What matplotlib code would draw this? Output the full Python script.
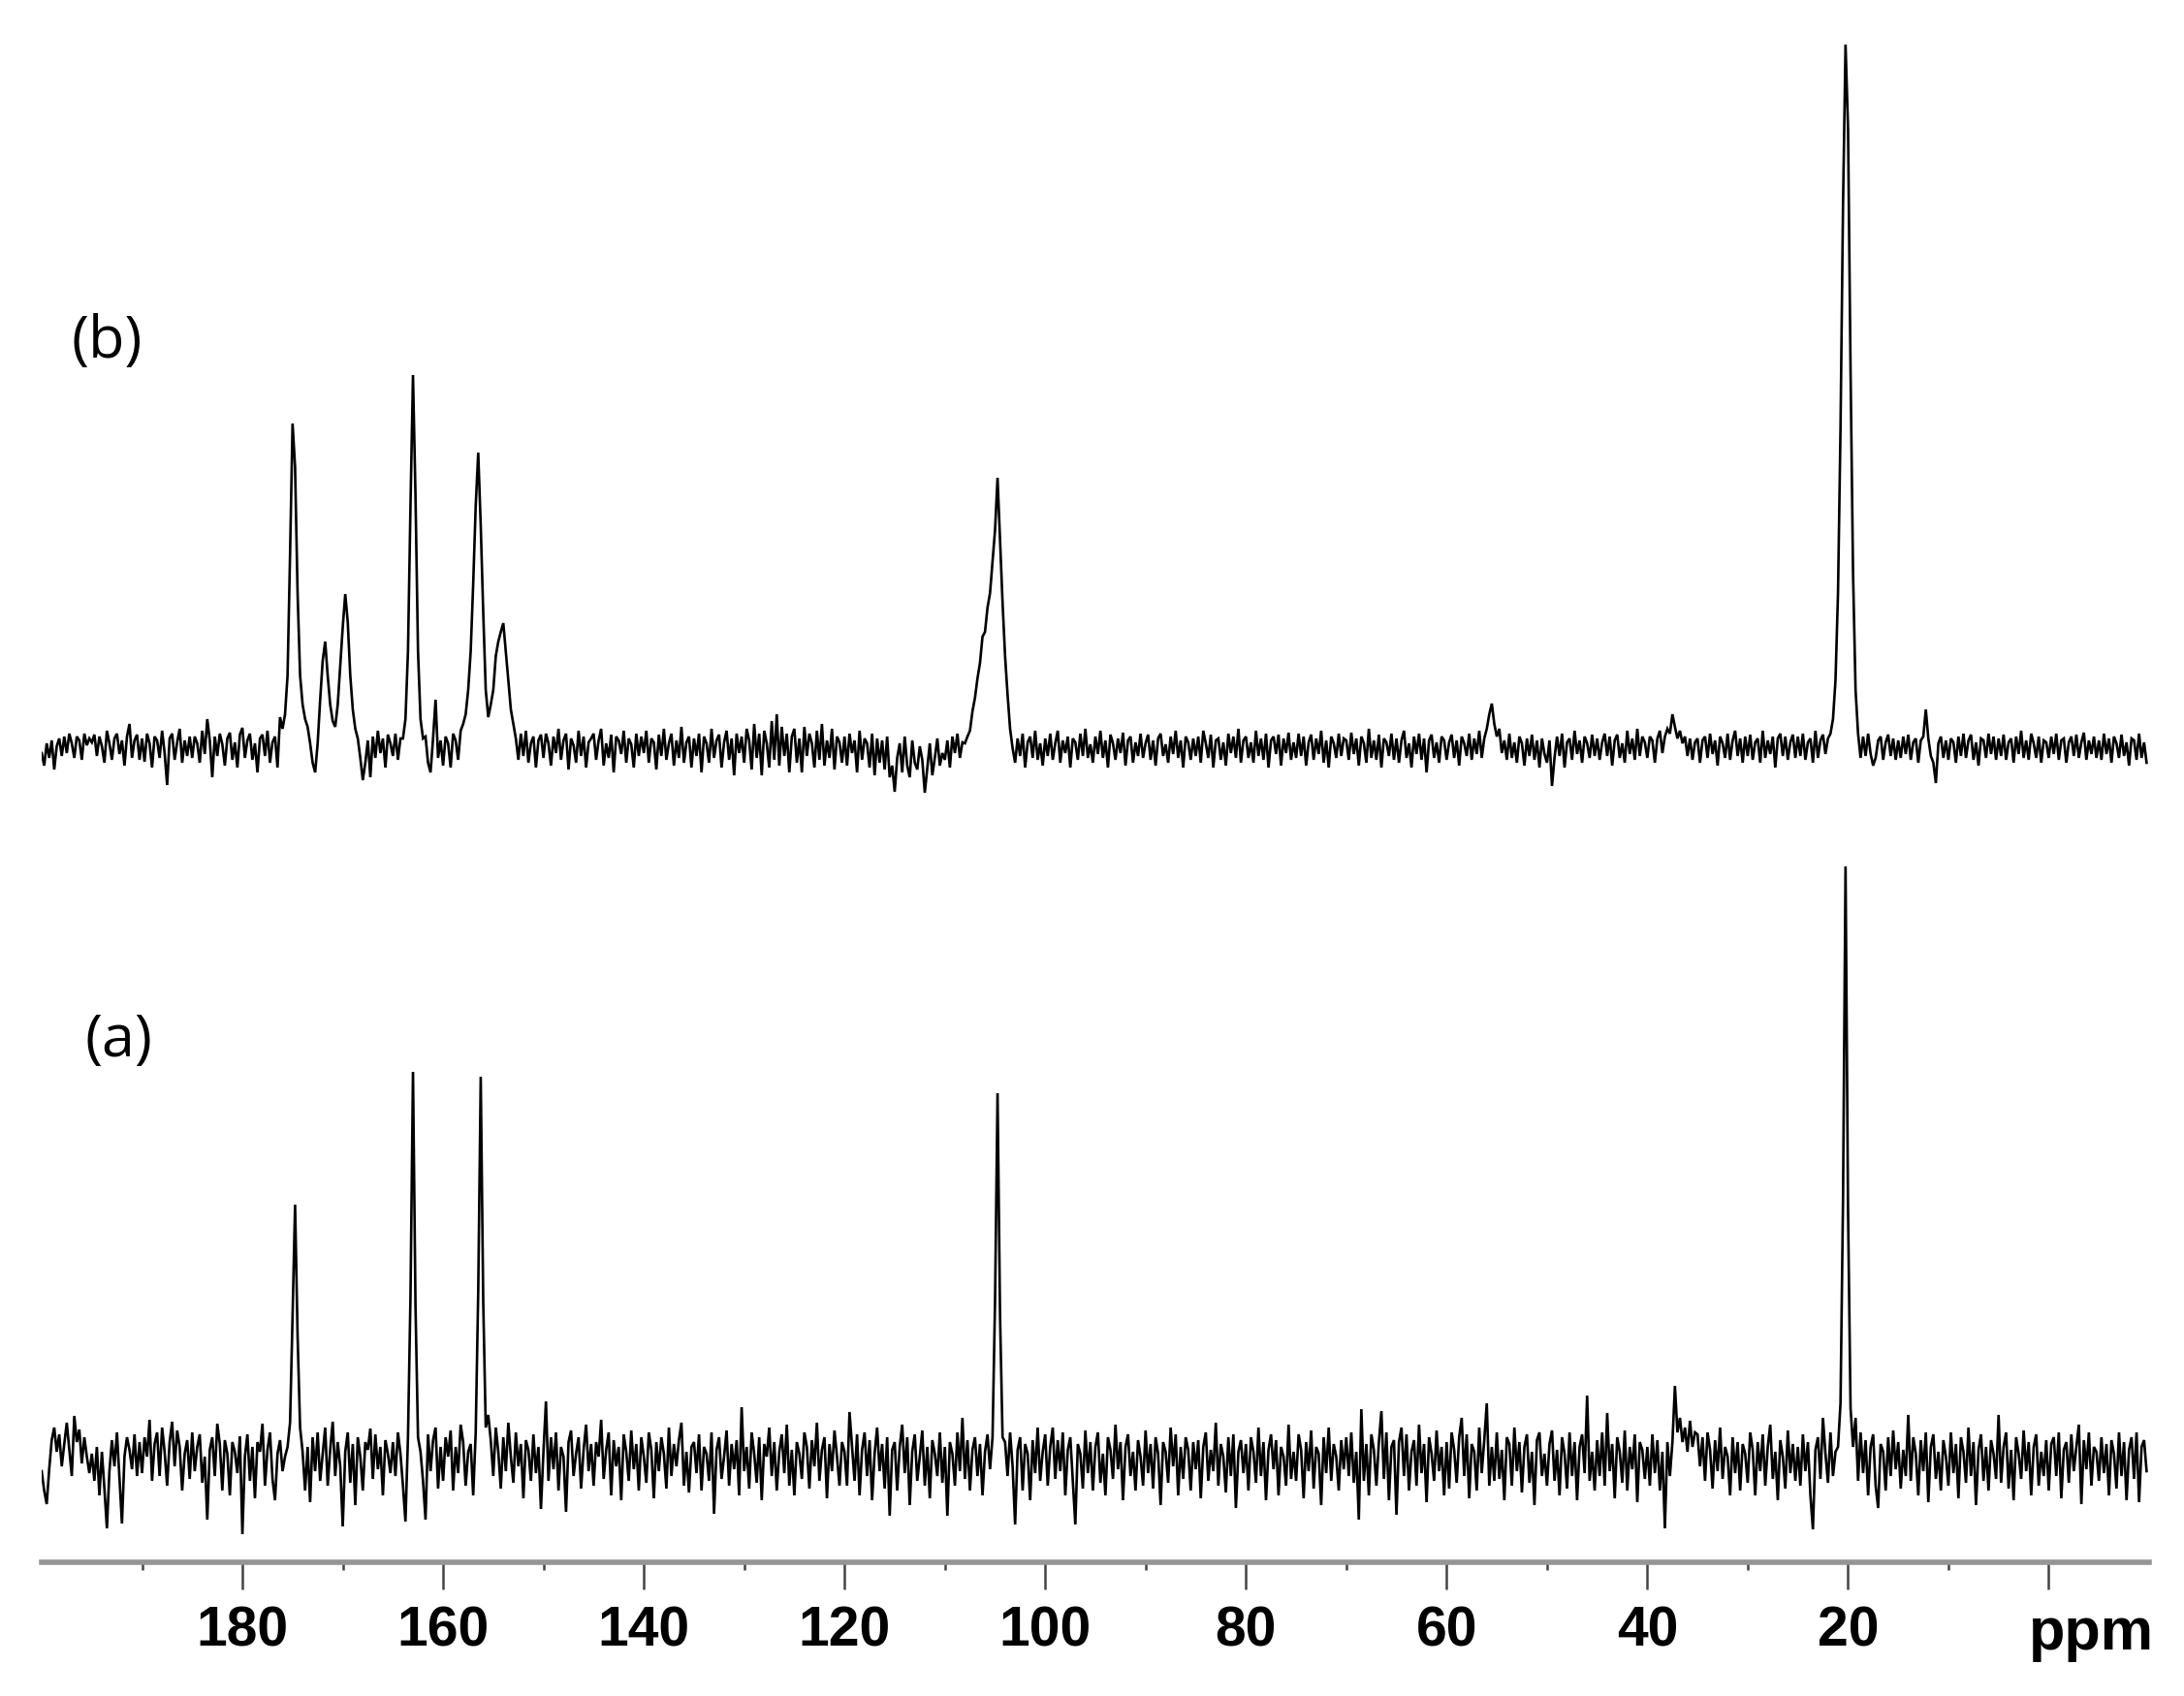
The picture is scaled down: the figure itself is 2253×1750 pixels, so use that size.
import numpy as np
import matplotlib
matplotlib.use("Agg")
import matplotlib.pyplot as plt

# ---------------- data (intensities in px above each baseline, 0.25 ppm grid) ----------------
# Each block covers 5 ppm, starting at 200 - 5*k ppm, 20 points each (step 0.25 ppm)
noise_a_blocks = [
    [-10, -30, -44, -8, 22, 35, 10, 28, -5, 18, 40, 12, -15, 47, 20, 33, -2, 25, 5, -12],
    [8, -20, 15, -35, 10, -28, -69, -10, 22, -5, 30, -18, -64, 5, 25, 12, -8, 28, -15, 20],
    [-12, 25, 5, 43, -20, 18, 30, -15, 35, 10, -25, 20, 41, -5, 32, 15, -30, 8, 22, -18],
    [30, -10, 15, 28, -22, 5, -60, 12, 25, -15, 39, 18, -30, 22, 8, -35, 20, 10, -12, 26],
    [-75, 5, 28, -20, 15, -38, 20, 10, 39, -25, 12, 30, -18, -40, 8, 22, -10, 5, -15, 10],
    [0, 0, 0, 0, 0, -30, 15, -42, 25, -10, 30, -20, 8, 35, -25, 12, 41, -15, 20, -5],
    [-67, 10, 30, -22, 18, -45, 25, 5, -30, 20, 12, 34, -18, 28, -8, 15, -35, 22, 8, -12],
    [20, -15, 30, 8, -25, -62, 0, 0, 0, 0, 0, 10, -20, -60, 28, -10, 22, 35, -28, 15],
    [-20, 25, 5, 32, -30, 15, -12, 38, 20, -25, 10, 18, -35, 0, 0, 0, 0, 0, 48, 22],
    [-15, 35, 10, -28, 25, -10, 40, 5, -22, 30, -5, 18, -38, 22, 12, -20, 28, -12, 15, -49],
    [10, 62, -20, 25, -8, 30, -30, 15, 5, -52, 20, 32, -15, 8, 25, -28, 12, 38, -10, 18],
    [-25, 20, 5, 43, -18, 12, 30, -35, 22, -5, 15, -40, 28, 10, -20, 32, -8, 18, -30, 25],
    [5, -22, 30, 12, -38, 20, -10, 25, 8, -28, 35, -15, 18, -5, 22, 40, -25, 10, -32, 15],
    [20, -12, 28, -30, 15, 8, -20, 30, -54, 12, 25, -18, 5, 32, -25, 18, -8, 22, -35, 56],
    [-10, 15, -28, 30, 8, -22, 25, -40, 18, 5, 35, -15, 20, -30, 10, 28, -12, 38, -25, 12],
    [-35, 20, 8, -18, 30, 15, -28, 22, -5, 40, -20, 12, 25, -38, 18, -10, 32, 5, -25, 20],
    [10, -25, 51, 15, -20, 28, -35, 12, 30, -15, 22, -40, 8, 35, -10, 18, -28, 25, -56, 12],
    [20, -30, 15, 38, -12, 25, -45, 10, 28, -20, 5, 32, -25, 15, -38, 22, 8, -15, 30, -22],
    [15, -56, 20, 8, -25, 30, -10, 45, -18, 22, -30, 12, 25, -15, 18, -35, 10, 28, -8, 0],
    [0, 0, 0, 0, 20, -15, 30, -5, -65, 12, 25, -30, 18, 8, -40, 22, -12, 35, -20, 10],
    [28, -25, 15, 35, -18, 22, -10, 30, -35, 12, 25, -20, -65, 18, 8, -28, 32, -12, 20, -30],
    [15, 30, -22, 8, -35, 25, 12, -18, 38, -8, 20, -40, 15, 28, -15, 10, -30, 22, 5, -25],
    [32, -12, 18, -28, 25, 8, -45, 20, 10, -22, 35, -5, 28, -35, 15, -18, 25, 12, -30, 20],
    [-8, 22, -38, 15, 30, -20, 12, -10, 40, -25, 18, 5, -32, 25, -15, 28, -48, 10, 22, -12],
    [18, -30, 25, 10, -22, 35, -15, 20, -40, 12, 28, -8, 22, -35, 15, 5, -25, 38, -18, 10],
    [-20, 28, 12, -38, 20, -10, 32, -28, 15, 8, -45, 25, -12, 35, -20, 18, 5, -30, 22, -8],
    [25, -15, 30, -22, 10, -60, 54, -20, 18, -35, 28, 12, -25, 20, 52, -18, 30, -40, 15, 22],
    [-55, 20, 35, -15, 28, -30, 10, 22, -25, 38, -12, 18, -42, 25, 8, -20, 32, -10, 15, -35],
    [20, -28, 30, 12, -22, 25, 45, -15, 28, -38, 18, 10, -30, 35, -12, 22, 60, -25, 15, -20],
    [30, -18, 12, -40, 25, 18, -25, 35, -10, 20, -32, 15, 28, -22, 10, -45, 22, 30, -15, 8],
    [-25, 18, 32, -20, 12, -35, 25, 8, -28, 30, -15, 20, -40, 15, 28, -12, 68, -20, 10, -30],
    [22, -15, 30, -25, 50, -10, 18, -38, 25, 10, -22, 32, -30, 15, -8, 28, -42, 20, 12, -18],
    [15, -25, 28, -12, 22, -30, 10, -69, 20, -15, 0, 0, 0, 45, 20, 35, 10, 42, 15, 30],
    [28, -5, 25, -20, 30, 12, -28, 22, -10, 35, -18, 15, 5, -35, 25, -12, 20, -30, 18, 8],
    [-22, 30, 12, -35, 20, -10, 28, -25, 15, 38, -18, 10, -40, 22, 5, -28, 32, -12, 18, -20],
    [15, -25, 28, -10, 20, -35, -70, 12, 25, -18, 45, 8, -22, 30, -15, 10, 0, 0, 0, 0],
    [0, 0, 0, 45, -20, 30, -12, 22, -35, 15, 28, -25, -48, 18, 10, -30, 25, -15, 32, -8],
    [20, -28, 12, -15, 48, -20, 25, 8, -35, 22, -10, 30, -42, 15, 28, -18, 10, -30, 22, 5],
    [-25, 30, -12, 18, -38, 25, 10, -22, 35, -15, 20, -45, 12, 28, -20, 15, -30, 22, 8, -18],
    [48, -22, 15, 30, -28, 12, -40, 25, 8, -18, 32, -10, 20, -35, 15, 28, -25, 10, -15, 22],
    [-30, 18, 25, -15, 30, -38, 12, 20, -22, 28, -10, 15, 38, -44, 22, -8, 30, -25, 15, 10],
    [-20, 25, -12, 18, -35, 22, 8, -28, 30, -15, 20, -40, 12, 25, -18, 30, -42, 15, 22, -10],
]

noise_b_blocks = [
    [-5, -18, 5, -10, 8, -22, 2, 10, -8, 12, -5, 15, 5, -10, 12, 8, -12, 15, 3, 10],
    [6, 14, -8, 12, 2, -15, 18, 5, -12, 10, 15, -6, 8, -18, 12, 25, -10, 8, 14, -12],
    [10, -14, 15, 5, -20, 12, 8, -10, 18, -5, -38, 10, 15, -12, 6, 20, -15, 8, -8, 12],
    [-10, 12, 5, -15, 18, -6, 30, 8, -30, 12, -8, 15, 4, -18, 10, 16, -12, 6, -20, 14],
    [21, -10, 8, 15, -12, 5, -25, 10, 14, -8, 18, -15, 6, 12, -20, 32, 0, 0, 0, 0],
    [0, 0, 0, 0, 0, 0, 0, 0, 0, 0, 0, 0, 0, 0, 0, 0, 0, 0, 0, 0],
    [0, 0, 0, 0, 0, 0, 0, 0, 0, -15, 8, -30, 12, -10, 18, -5, 10, -20, 14, 5],
    [-8, 15, -12, 10, 0, 0, 0, 0, 0, 0, 0, 0, 0, 12, -15, -25, 10, 50, -10, 8],
    [-18, 12, 5, -20, 15, 8, -12, 18, 0, 0, 0, 0, 0, 0, 0, 0, 0, 0, 0, 0],
    [0, 0, 0, 0, 0, 0, 0, 0, 0, 10, -12, 15, -8, 18, -15, 5, 12, -20, 8, 14],
    [-10, 15, 5, -18, 12, -5, 20, -12, 8, 15, -22, 10, 3, -15, 18, -8, 12, -20, 6, 10],
    [15, -12, 8, 20, -18, 5, -10, 14, -25, 12, 8, -6, 18, -15, 10, 4, -20, 15, -8, 12],
    [-5, 18, -15, 10, 6, -22, 14, -8, 20, -12, 5, 15, -18, 8, -10, 22, -15, 6, 12, -20],
    [10, -8, 15, -25, 12, 5, -15, 20, -10, 8, 14, -20, 6, 18, -12, 10, -28, 15, -5, 12],
    [-15, 20, 8, -22, 25, -10, 15, -28, 18, 5, -20, 28, -12, 35, -18, 22, -8, 15, -25, 12],
    [20, -15, 10, -25, 22, -8, 15, 5, -20, 18, -12, 25, -18, 8, -10, 20, -22, 12, 6, -15],
    [12, -18, 15, -5, 8, -25, 18, -12, 10, 5, -20, 15, -28, 10, -15, 8, -22, 12, -30, -18],
    [-45, -10, 5, -25, 12, -18, -30, 8, -15, -22, 2, -12, -46, -20, 5, -28, -10, 10, -18, -5],
    [-12, 8, -20, 12, -5, 15, -10, 6, 0, 0, 0, 0, 0, 0, 0, 0, 0, 0, 0, 0],
    [0, 0, 0, 0, 0, 0, 0, 0, -15, 10, -8, 15, -20, 6, 12, -10, 18, -12, 5, -18],
    [10, -8, 15, -12, 5, 18, -15, 8, -5, 12, -20, 10, 6, -12, 15, -8, 20, -10, 4, -15],
    [12, -6, 18, -10, 8, -20, 14, 5, -12, 10, -5, 16, -18, 8, 12, -15, 6, -8, 15, -10],
    [5, 14, -12, 8, -18, 10, 15, -8, 4, -15, 12, -6, 18, -10, 8, -20, 12, 6, -12, 10],
    [-8, 12, -15, 18, 5, -10, 14, -20, 8, 10, -12, 6, -18, 15, -5, 12, -10, 20, -15, 8],
    [12, -10, 6, -15, 18, -8, 10, -12, 15, -20, 8, 12, -6, 14, -18, 10, -5, 16, -12, 6],
    [-10, 15, -8, 12, -18, 6, 14, -12, 10, -6, 18, -15, 8, -20, 12, 5, -10, 15, -8, 10],
    [8, -12, 16, -6, 10, -18, 12, 5, -15, 20, -10, 8, -12, 14, -20, 10, 6, -8, 15, -12],
    [10, -15, 8, 18, -10, 5, -20, 12, -6, 15, -12, 10, -25, 8, 14, -10, 6, -15, 12, 8],
    [-12, 6, 14, -10, 8, -18, 12, 5, -8, 15, -12, 10, -6, 18, -10, 10, 20, 35, 46, 25],
    [12, 20, -5, 8, -12, 15, -10, 6, -15, 12, 5, -18, 10, -8, 14, -12, 8, -20, 10, -6],
    [-15, 8, -39, -10, 12, -8, 15, -20, 6, 10, -12, 18, -6, 8, -15, 12, 5, -10, 14, -8],
    [10, -12, 6, 15, -8, 12, -18, 8, 14, -10, 5, -15, 18, -6, 10, -12, 20, -8, 12, 6],
    [-10, 12, 8, -15, 10, 18, -5, 12, 20, 15, 35, 22, 10, 18, 5, 12, -8, 10, -12, 6],
    [10, -15, 8, 12, -10, 15, -6, 8, -18, 12, 5, -10, 15, -12, 8, 18, -8, 10, -15, 12],
    [-8, 14, -12, 6, 10, -15, 18, -10, 8, -6, 12, -20, 10, 15, -8, 12, -12, 6, 14, -10],
    [12, -8, 15, -12, 6, 10, -15, 18, -10, 8, 14, -6, 10, 0, 0, 0, 0, 0, 0, 0],
    [0, 0, 0, 0, 0, -10, 12, -8, 15, -6, -18, -10, 8, 12, -12, 6, 14, -8, 10, -12],
    [8, -10, 12, -6, 14, -12, 6, 10, -15, 8, 12, 40, 10, -8, -15, -36, 5, 12, -10, 8],
    [-12, 10, 6, -15, 12, -8, 15, -10, 8, 14, -12, 6, -18, 10, 8, -10, 15, -6, 12, -12],
    [10, -8, 14, -12, 6, 10, -15, 12, -6, 18, -10, 8, -12, 15, 5, -10, 12, -15, 8, 6],
    [-10, 12, -6, 15, -12, 8, 10, -15, 6, 12, -8, 14, -10, 6, 16, -12, 8, -6, 12, -10],
    [8, -12, 15, -6, 10, -15, 12, 5, -10, 14, -8, 6, -18, 10, 8, -12, 15, -10, 6, -15],
]

# Peak regions: (first ppm, consecutive values on the 0.25 ppm grid)
peaks_a = [
    (175.5, [15, 40, 150, 265, 130, 35, 10]),
    (163.5, [25, 170, 402, 160, 25]),
    (156.75, [30, 175, 397, 165, 35]),
    (105.25, [25, 165, 380, 150, 25]),
    (37.5, [20, 78, 30]),
    (21.0, [15, 60, 270, 614, 260, 55, 15]),
]
peaks_b = [
    (176.0, [20, 35, 75, 200, 335, 290, 160, 75, 45, 30, 22, 5, -15, -25, 5, 50, 90,
             110, 75, 45, 28, 22, 45, 85, 125, 159, 130, 75, 40, 20, 10, -10, -33]),
    (164.0, [10, 30, 100, 250, 385, 260, 100, 30, 10]),
    (158.0, [25, 35, 60, 100, 170, 250, 305, 230, 140, 60, 32, 45, 60, 95, 110, 120,
             129, 100, 70, 40, 25]),
    (108.0, [5, 12, 18, 38, 52, 72, 88, 115, 120, 145, 160, 192, 225, 279, 215, 150,
             95, 55, 20, 0]),
    (21.75, [15, 30, 70, 160, 330, 560, 726, 640, 390, 180, 60, 15]),
]

labels = ["(a)", "(b)"]
major_ticks = [180, 160, 140, 120, 100, 80, 60, 40, 20, 0]
major_labels = ["180", "160", "140", "120", "100", "80", "60", "40", "20", ""]
minor_ticks = [190, 170, 150, 130, 110, 90, 70, 50, 30, 10]
unit_label = "ppm"

# ---------------- build traces ----------------
def build(blocks, peaks, start=200.0, span=5.0):
    xs, ys = [], []
    for k, blk in enumerate(blocks):
        n = len(blk)
        s = start - span * k
        xs.extend(s - span * np.arange(n) / n)
        ys.extend(blk)
    xs = np.asarray(xs, float)
    ys = np.asarray(ys, float)
    for p0, vals in peaks:
        for j, v in enumerate(vals):
            i = np.argmin(np.abs(xs - (p0 - 0.25 * j)))
            ys[i] = v
    return xs, ys

xa, ya = build(noise_a_blocks, peaks_a)
xb, yb = build(noise_b_blocks, peaks_b)

# ---------------- figure ----------------
W, H = 2253, 1750
fig = plt.figure(figsize=(W / 100, H / 100), dpi=100)
ax_bottom_px = 1612
ax = fig.add_axes([43 / W, (H - ax_bottom_px) / H, (2217 - 43) / W, ax_bottom_px / H])

off_a = ax_bottom_px - 1508
off_b = ax_bottom_px - 772
ax.plot(xa, ya + off_a, color="black", lw=1.9, solid_joinstyle="miter")
ax.plot(xb, yb + off_b, color="black", lw=1.9, solid_joinstyle="miter")

ax.set_xlim(200, -10)
ax.set_ylim(0, ax_bottom_px)

for s in ["top", "left", "right"]:
    ax.spines[s].set_visible(False)
ax.spines["bottom"].set_color("#959595")
ax.spines["bottom"].set_linewidth(4.0)
ax.set_yticks([])

ax.set_xticks(major_ticks)
ax.set_xticklabels(major_labels)
ax.set_xticks(minor_ticks, minor=True)
ax.tick_params(axis="x", which="major", direction="out", length=20, width=1.8,
               color="#444444", pad=12)
ax.tick_params(axis="x", which="minor", direction="out", length=6, width=1.8,
               color="#444444")
for lab in ax.get_xticklabels():
    lab.set_fontfamily(["Liberation Sans", "DejaVu Sans"])
    lab.set_fontweight("bold")
    lab.set_fontsize(41)

fig.text(2157 / W, (H - 1702) / H, unit_label, ha="center", va="baseline",
         fontsize=44, fontweight="bold", family=["Liberation Sans", "DejaVu Sans"])

fig.text(123 / W, 1 - 1074 / H, labels[0], ha="center", va="center",
         fontsize=44, family=["Open Sans", "DejaVu Sans"])
fig.text(110 / W, 1 - 353 / H, labels[1], ha="center", va="center",
         fontsize=44, family=["Open Sans", "DejaVu Sans"])

fig.savefig("out.png", dpi=100, facecolor="white")
